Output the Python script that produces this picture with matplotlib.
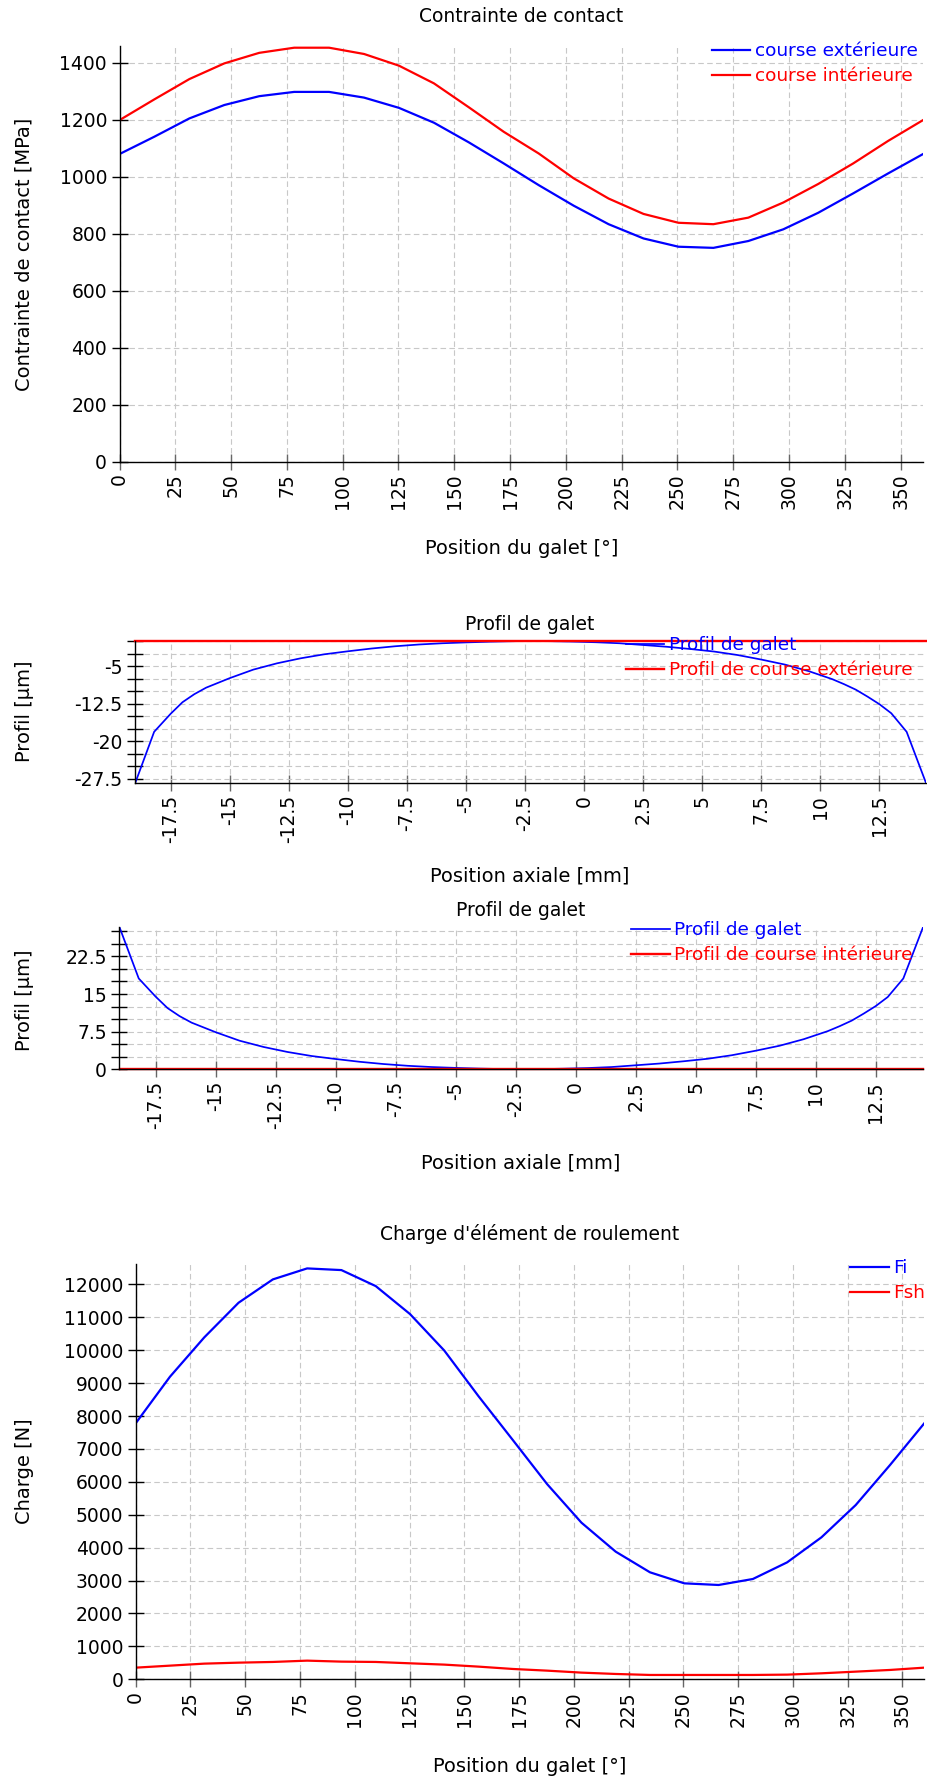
import matplotlib
matplotlib.use("Agg")
import matplotlib.pyplot as plt
from matplotlib.ticker import MultipleLocator, FixedLocator, FormatStrFormatter

plt.rcParams['font.family'] = ['DejaVu Sans']
plt.rcParams['axes.unicode_minus'] = False

# --- donnees ---
# position angulaire des galets (23 galets + retour a 360)
position_galet = [0, 15.65, 31.3, 46.96, 62.61, 78.26, 93.91, 109.57, 125.22, 140.87,
                  156.52, 172.17, 187.83, 203.48, 219.13, 234.78, 250.43, 266.09,
                  281.74, 297.39, 313.04, 328.7, 344.35, 360]
contrainte_ext = [1079, 1140, 1204, 1251, 1282, 1297, 1297, 1277, 1241, 1189, 1120, 1046,
                  970, 898, 833, 783, 754, 750, 774, 815, 873, 941, 1011, 1079]
contrainte_int = [1198, 1271, 1342, 1397, 1434, 1452, 1452, 1430, 1389, 1327, 1243, 1157,
                  1081, 994, 923, 869, 838, 833, 856, 909, 974, 1046, 1125, 1198]
charge_fi = [7780, 9195, 10390, 11443, 12152, 12486, 12435, 11949, 11099, 9990, 8600, 7270,
             5930, 4760, 3878, 3251, 2916, 2866, 3048, 3554, 4314, 5296, 6511, 7780]
charge_fsh = [354, 415, 476, 506, 527, 567, 537, 527, 486, 446, 385, 314,
              263, 203, 162, 132, 132, 132, 132, 142, 182, 233, 284, 354]

# profil du galet (position axiale en mm, ecart en um)
pos_axiale = [-19.0, -18.2, -17.5, -17.0, -16.5, -16.0, -15.0, -14.0, -13.0, -12.0, -11.0,
              -10.0, -9.0, -8.0, -7.0, -6.0, -5.0, -4.0, -3.0, -2.3, -1.5, -0.5, 0.5, 1.5,
              2.5, 3.5, 4.5, 5.5, 6.5, 7.5, 8.5, 9.5, 10.5, 11.0, 11.5, 12.0, 12.5, 13.0,
              13.65, 14.47]
profil_galet = [28.3, 18.1, 14.5, 12.2, 10.6, 9.3, 7.4, 5.7, 4.45, 3.45, 2.65, 2.05, 1.5,
                1.05, 0.7, 0.45, 0.28, 0.14, 0.04, 0.0, 0.03, 0.12, 0.25, 0.45, 0.8, 1.15,
                1.6, 2.1, 2.8, 3.7, 4.7, 6.0, 7.6, 8.6, 9.7, 11.1, 12.6, 14.4, 18.1, 28.3]
pos_course = [-19.0, 14.47]
profil_course = [0, 0]

W, H = 927, 1784
BLEU = '#0000ff'
ROUGE = '#ff0000'

fig = plt.figure(figsize=(W / 100, H / 100), dpi=100)


def boite(gauche, haut, droite, bas):
    """Position d'un axe en pixels -> fraction de figure."""
    return [gauche / W, 1 - bas / H, (droite - gauche) / W, (bas - haut) / H]


def texte(x, y, s, **kw):
    fig.text(x / W, 1 - y / H, s, ha='center', va='center', **kw)


def preparer_axe(ax):
    for cote in ['top', 'right']:
        ax.spines[cote].set_visible(False)
    for cote in ['left', 'bottom']:
        ax.spines[cote].set_linewidth(1)
        ax.spines[cote].set_color('black')
    ax.tick_params(axis='y', which='both', direction='inout', length=12, width=1,
                   colors='black', labelsize=13.5, pad=3)
    ax.tick_params(axis='x', which='both', direction='inout', length=11, width=1,
                   color='#666666', labelcolor='black', labelsize=13.5, pad=3,
                   labelrotation=90)
    ax.grid(True, which='both', color='#c8c8c8', linestyle=(0, (5, 3)), linewidth=0.8)
    ax.set_axisbelow(True)


def legende(ax, x, y):
    ax.legend(loc='upper left', bbox_to_anchor=(x / W, 1 - y / H),
              bbox_transform=fig.transFigure, frameon=False, fontsize=13.3,
              handlelength=2.1, handletextpad=0.25, borderpad=0, borderaxespad=0,
              labelspacing=0.4, labelcolor='linecolor')


# --- 1. Contrainte de contact ---
ax1 = fig.add_axes(boite(119.5, 46, 923, 461.7))
preparer_axe(ax1)
ax1.plot(position_galet, contrainte_ext, color=BLEU, lw=1.6, label='course extérieure')
ax1.plot(position_galet, contrainte_int, color=ROUGE, lw=1.6, label='course intérieure')
ax1.set_xlim(0, 360)
ax1.set_ylim(0, 1458)
ax1.xaxis.set_major_locator(MultipleLocator(25))
ax1.yaxis.set_major_locator(MultipleLocator(200))
legende(ax1, 711.7, 42)
texte(521, 17, 'Contrainte de contact', fontsize=13.5)
texte(522, 549, 'Position du galet [°]', fontsize=14)
texte(24, 254, 'Contrainte de contact [MPa]', fontsize=14, rotation=90)

# --- 2. Profil galet / course exterieure ---
ax2 = fig.add_axes(boite(135, 641, 926, 783))
preparer_axe(ax2)
ax2.plot(pos_axiale, [-v for v in profil_galet], color=BLEU, lw=1.25, label='Profil de galet')
ax2.plot(pos_course, profil_course, color=ROUGE, lw=1.7, clip_on=False,
         label='Profil de course extérieure')
ax2.set_xlim(-19.01, 14.47)
ax2.set_ylim(-28.3, 0)
ax2.xaxis.set_major_locator(MultipleLocator(2.5))
ax2.xaxis.set_major_formatter(FormatStrFormatter('%g'))
ax2.yaxis.set_major_locator(FixedLocator([-27.5, -20, -12.5, -5]))
ax2.yaxis.set_major_formatter(FormatStrFormatter('%g'))
ax2.yaxis.set_minor_locator(MultipleLocator(2.5))
legende(ax2, 625.7, 636)
texte(530, 624, 'Profil de galet', fontsize=13.5)
texte(530, 876, 'Position axiale [mm]', fontsize=14)
texte(24, 711, 'Profil [µm]', fontsize=14, rotation=90)

# --- 3. Profil galet / course interieure ---
ax3 = fig.add_axes(boite(119.3, 926.8, 923, 1069.3))
preparer_axe(ax3)
ax3.plot(pos_axiale, profil_galet, color=BLEU, lw=1.25, label='Profil de galet')
ax3.plot(pos_course, profil_course, color=ROUGE, lw=1.7, clip_on=False,
         label='Profil de course intérieure')
ax3.set_xlim(-19.01, 14.47)
ax3.set_ylim(0, 28.4)
ax3.xaxis.set_major_locator(MultipleLocator(2.5))
ax3.xaxis.set_major_formatter(FormatStrFormatter('%g'))
ax3.yaxis.set_major_locator(FixedLocator([0, 7.5, 15, 22.5]))
ax3.yaxis.set_major_formatter(FormatStrFormatter('%g'))
ax3.yaxis.set_minor_locator(MultipleLocator(2.5))
legende(ax3, 631, 921)
texte(521, 911, 'Profil de galet', fontsize=13.5)
texte(521, 1163, 'Position axiale [mm]', fontsize=14)
texte(24, 1000, 'Profil [µm]', fontsize=14, rotation=90)

# --- 4. Charge d'element de roulement ---
ax4 = fig.add_axes(boite(135.7, 1264, 924.3, 1679.3))
preparer_axe(ax4)
ax4.plot(position_galet, charge_fi, color=BLEU, lw=1.6, label='Fi')
ax4.plot(position_galet, charge_fsh, color=ROUGE, lw=1.6, label='Fsh')
ax4.set_xlim(0, 360)
ax4.set_ylim(0, 12620)
ax4.xaxis.set_major_locator(MultipleLocator(25))
ax4.yaxis.set_major_locator(MultipleLocator(1000))
legende(ax4, 850, 1259)
texte(530, 1234, "Charge d'élément de roulement", fontsize=13.5)
texte(530, 1766, 'Position du galet [°]', fontsize=14)
texte(24, 1471, 'Charge [N]', fontsize=14, rotation=90)

fig.savefig('out.png', dpi=100)
